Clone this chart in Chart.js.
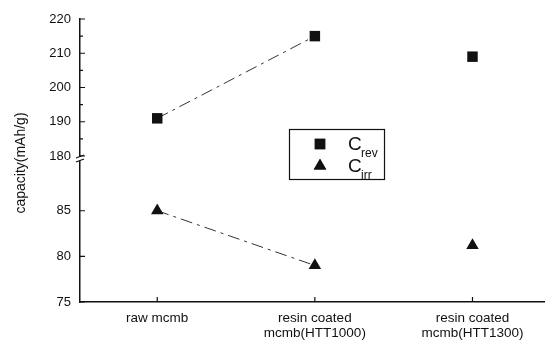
<!DOCTYPE html>
<html>
<head>
<meta charset="utf-8">
<script src="https://cdn.jsdelivr.net/npm/chart.js@4/dist/chart.umd.min.js"></script>
<style>
  html, body { margin: 0; padding: 0; background: #fff; }
  canvas { display: block; }
</style>
</head>
<body>
<canvas id="c" width="545" height="343"></canvas>
<script>
// Sample categories (x axis, multi-line labels)
const categories = [
  ['raw mcmb'],
  ['resin coated', 'mcmb(HTT1000)'],
  ['resin coated', 'mcmb(HTT1300)']
];
// Reversible and irreversible capacity, mAh/g
const cRev = [191, 215, 209];
const cIrr = [85, 79, 81.2];
// Tick values on the two parts of the broken y axis
const upperTicks = [180, 190, 200, 210, 220];
const upperMinor = [185, 195, 205, 215];
const lowerTicks = [75, 80, 85];

const FONT = "'Liberation Sans', Arial, sans-serif";
const INK = '#111';

const toPoints = arr => arr.map((v, i) => ({ x: i, y: v }));

// Inward tick marks, axis break, y title and the boxed legend
const decorations = {
  id: 'decorations',
  afterDraw(chart) {
    const ctx = chart.ctx;
    const { x, yTop, yBot } = chart.scales;
    const left = chart.chartArea.left;
    const bottom = chart.chartArea.bottom;
    ctx.save();
    ctx.strokeStyle = INK;
    ctx.lineWidth = 1.2;
    ctx.beginPath();
    upperTicks.forEach(v => { const p = yTop.getPixelForValue(v); ctx.moveTo(left, p); ctx.lineTo(left + 5, p); });
    upperMinor.forEach(v => { const p = yTop.getPixelForValue(v); ctx.moveTo(left, p); ctx.lineTo(left + 3, p); });
    lowerTicks.forEach(v => { const p = yBot.getPixelForValue(v); ctx.moveTo(left, p); ctx.lineTo(left + 5, p); });
    categories.forEach((c, i) => { const p = x.getPixelForValue(i); ctx.moveTo(p, bottom); ctx.lineTo(p, bottom - 5); });
    ctx.stroke();

    // axis break at the junction of the two y parts
    const jy = yTop.getPixelForValue(180);
    ctx.fillStyle = '#fff';
    ctx.fillRect(left - 3, jy + 1, 6, 4);
    ctx.beginPath();
    ctx.moveTo(left - 4, jy + 2); ctx.lineTo(left + 4, jy - 1);
    ctx.moveTo(left - 4, jy + 6); ctx.lineTo(left + 4, jy + 3);
    ctx.stroke();

    // y axis title
    ctx.fillStyle = INK;
    ctx.font = '14px ' + FONT;
    ctx.textAlign = 'center';
    ctx.textBaseline = 'middle';
    ctx.translate(21, 163);
    ctx.rotate(-Math.PI / 2);
    ctx.fillText('capacity(mAh/g)', 0, 0);
    ctx.restore();

    // legend box
    ctx.save();
    ctx.strokeStyle = INK;
    ctx.lineWidth = 1.2;
    ctx.strokeRect(289.5, 129.5, 95, 50);
    const entries = [
      { ds: chart.data.datasets[0], my: 144, base: 150, sub: 'rev' },
      { ds: chart.data.datasets[1], my: 166, base: 172, sub: 'irr' }
    ];
    entries.forEach(e => {
      Chart.helpers.drawPoint(ctx, {
        pointStyle: e.ds.pointStyle, radius: e.ds.pointRadius, borderWidth: 0
      }, 320, e.my);
      ctx.fillStyle = INK;
      ctx.fill();
      ctx.textAlign = 'left';
      ctx.textBaseline = 'alphabetic';
      ctx.font = '19px ' + FONT;
      ctx.fillText('C', 348, e.base);
      ctx.font = '12px ' + FONT;
      ctx.fillText(e.sub, 361, e.base + 7);
    });
    ctx.restore();
  }
};

const lineSegment = {
  borderColor: c => (c.p0DataIndex >= 1 ? 'rgba(0,0,0,0)' : '#333')
};

new Chart(document.getElementById('c'), {
  type: 'line',
  data: {
    datasets: [
      {
        label: 'Crev',
        data: toPoints(cRev),
        yAxisID: 'yTop',
        borderColor: '#333',
        borderWidth: 1,
        borderDash: [12, 5, 3, 5],
        segment: lineSegment,
        pointStyle: 'rect',
        pointRadius: 7.4,
        pointBackgroundColor: INK,
        pointBorderWidth: 0,
        fill: false
      },
      {
        label: 'Cirr',
        data: toPoints(cIrr),
        yAxisID: 'yBot',
        borderColor: '#333',
        borderWidth: 1,
        borderDash: [12, 5, 3, 5],
        segment: lineSegment,
        pointStyle: 'triangle',
        pointRadius: 7.2,
        pointBackgroundColor: INK,
        pointBorderWidth: 0,
        fill: false
      }
    ]
  },
  options: {
    responsive: false,
    animation: false,
    layout: { autoPadding: false, padding: { top: 19, right: 0, left: 0, bottom: 0 } },
    plugins: { legend: { display: false }, tooltip: { enabled: false } },
    scales: {
      x: {
        type: 'linear',
        min: -0.49,
        max: 2.46,
        grid: { display: false, drawTicks: false },
        border: { display: true, color: INK, width: 1.5 },
        afterBuildTicks: s => { s.ticks = categories.map((c, i) => ({ value: i })); },
        afterFit: s => { s.height = 41; s.paddingLeft = 0; s.paddingRight = 0; },
        ticks: {
          color: INK,
          font: { family: FONT, size: 13.5, lineHeight: 1.1 },
          padding: 9,
          maxRotation: 0,
          autoSkip: false,
          callback: v => categories[v]
        }
      },
      yBot: {
        type: 'linear',
        position: 'left',
        stack: 'cap',
        stackWeight: 146,
        min: 75,
        max: 91,
        grid: { display: false, drawTicks: false },
        border: { display: true, color: INK, width: 1.5 },
        afterBuildTicks: s => { s.ticks = lowerTicks.map(v => ({ value: v })); },
        afterFit: s => { s.width = 80; },
        ticks: { color: INK, font: { family: FONT, size: 13 }, padding: 9 }
      },
      yTop: {
        type: 'linear',
        position: 'left',
        stack: 'cap',
        stackWeight: 137,
        min: 180,
        max: 220,
        grid: { display: false, drawTicks: false },
        border: { display: true, color: INK, width: 1.5 },
        afterBuildTicks: s => { s.ticks = upperTicks.map(v => ({ value: v })); },
        afterFit: s => { s.width = 80; },
        ticks: { color: INK, font: { family: FONT, size: 13 }, padding: 9 }
      }
    }
  },
  plugins: [decorations]
});
</script>
</body>
</html>
